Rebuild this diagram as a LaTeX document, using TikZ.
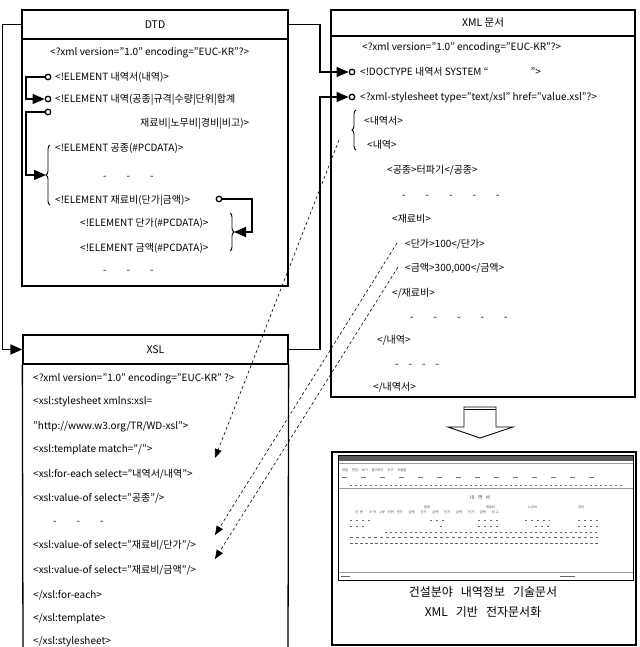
\documentclass[tikz,border=0pt]{standalone}
\usepackage{fontspec}
\setmainfont{Noto Sans CJK KR}
\usetikzlibrary{arrows.meta,decorations.pathreplacing,calc}
\begin{document}
\begin{tikzpicture}[x=1pt,y=-1pt,
  frame/.style={draw, line width=1.3pt, inner sep=0pt},
  hdr/.style={draw, line width=1.3pt, inner sep=0pt, font=\fontsize{10.5}{12}\selectfont},
  txt/.style={anchor=base west, inner sep=0pt, font=\fontsize{10}{12}\selectfont},
  conn/.style={line width=1.4pt, -{Triangle[length=12pt,width=10pt]}},
  ring/.style={circle, draw, line width=1.3pt, fill=white, inner sep=0pt, minimum size=5.5pt},
  dasharrow/.style={line width=0.6pt, dash pattern=on 3pt off 2.5pt, -{Triangle[length=9pt,width=7pt]}},
  bracel/.style={decorate, decoration={brace, amplitude=4pt}, line width=0.9pt},
  tinytxt/.style={anchor=base west, inner sep=0pt, font=\fontsize{3.2}{4}\selectfont, text=black!75},
  captxt/.style={align=center, inner sep=0pt, font=\fontsize{12}{20}\selectfont}
]
\useasboundingbox (0,0) rectangle (639,647);

% ---------------- DTD box ----------------
\node[hdr, minimum width=266pt, minimum height=29pt] (dtdh) at (155,24.5) {DTD};
\node[frame, minimum width=266pt, minimum height=247pt] (dtdb) at (155,162.5) {};
\node[txt] (d0) at (50,56) {<?xml version="1.0" encoding="EUC-KR"?>};
\node[ring] (r1) at (48,77) {};
\node[txt] (dl1) at (55,81) {<!ELEMENT 내역서(내역)>};
\node[ring] (r2) at (48,99) {};
\node[txt] (dl2) at (55,103) {<!ELEMENT 내역(공종|규격|수량|단위|합계};
\node[ring] (r3) at (48,112) {};
\node[txt] (dl3) at (140,127) {재료비|노무비|경비|비고)>};
\node[txt] (dl4) at (55,152) {<!ELEMENT 공종(\#PCDATA)>};
\node[txt] (dl5) at (103,179) {-\hspace{20pt}-\hspace{20pt}-};
\node[txt] (dl6) at (55,203) {<!ELEMENT 재료비(단가|금액)>};
\node[ring] (r4) at (219,199) {};
\node[txt] (dl7) at (80,226) {<!ELEMENT 단가(\#PCDATA)>};
\node[txt] (dl8) at (80,251) {<!ELEMENT 금액(\#PCDATA)>};
\node[txt] (dl9) at (103,273) {-\hspace{20pt}-\hspace{20pt}-};

% braces in DTD
\draw[bracel] (50,205) -- (50,145);
\coordinate (lbt) at (46,175);
\draw[bracel] (230,213) -- (230,251);
\coordinate (rbt) at (234,232);

% DTD inner connectors
\coordinate (jl) at (26,0);
\coordinate (jr) at (252,0);
\draw[conn] (r1.west) -| (jl|-r2) -- (r2.west);
\draw[conn] (r3.west) -| (jl|-lbt) -- (lbt);
\draw[conn] (r4.east) -| (jr|-rbt) -- (rbt);

% ---------------- XML box ----------------
\node[hdr, minimum width=304pt, minimum height=26pt] (xmlh) at (483,23) {XML 문서};
\node[frame, minimum width=304pt, minimum height=361pt] (xmlb) at (483,216.5) {};
\node[txt] (x0) at (362,51) {<?xml version="1.0" encoding="EUC-KR"?>};
\node[ring] (c1) at (352,72) {};
\node[txt] (x1) at (360,76) {<!DOCTYPE 내역서 SYSTEM “\hspace{42pt}”>};
\node[ring] (c2) at (352,97) {};
\node[txt] (x2) at (360,101) {<?xml-stylesheet type="text/xsl" href="value.xsl"?>};
\draw[bracel] (356,150) -- (356,110);
\node[txt] (x3) at (364,125) {<내역서>};
\node[txt] (x4) at (367,149) {<내역>};
\node[txt] (x5) at (387,174) {<공종>터파기</공종>};
\node[txt] (x6) at (402,198) {-\hspace{20pt}-\hspace{20pt}-\hspace{20pt}-\hspace{20pt}-};
\node[txt] (x7) at (392,222) {<재료비>};
\node[txt] (x8) at (405,247) {<단가>100</단가>};
\node[txt] (x9) at (405,271) {<금액>300,000</금액>};
\node[txt] (x10) at (392,296) {</재료비>};
\node[txt] (x11) at (410,320) {-\hspace{20pt}-\hspace{20pt}-\hspace{20pt}-\hspace{20pt}-};
\node[txt] (x12) at (377,343) {</내역>};
\node[txt] (x13) at (395,367) {-\hspace{10pt}-\hspace{10pt}-\hspace{10pt}-};
\node[txt] (x14) at (373,390) {</내역서>};

% ---------------- XSL box ----------------
\node[hdr, minimum width=265pt, minimum height=29pt] (xslh) at (155.5,349.5) {XSL};
\draw[line width=1.3pt] (xslh.south west) -- (23,648);
\draw[line width=1.3pt] (xslh.south east) -- (288,648);
\node[txt] (s0) at (33,381) {<?xml version="1.0" encoding="EUC-KR" ?>};
\node[txt] (s1) at (33,404) {<xsl:stylesheet xmlns:xsl=};
\node[txt] (s2) at (33,429) {"http://www.w3.org/TR/WD-xsl">};
\node[txt] (s3) at (33,452) {<xsl:template match="/">};
\node[txt] (s4) at (33,477) {<xsl:for-each select="내역서/내역">};
\node[txt] (s5) at (33,501) {<xsl:value-of select="공종"/>};
\node[txt] (s6) at (53,524) {-\hspace{20pt}-\hspace{20pt}-};
\node[txt] (s7) at (33,548) {<xsl:value-of select="재료비/단가"/>};
\node[txt] (s8) at (33,573) {<xsl:value-of select="재료비/금액"/>};
\node[txt] (s9) at (33,598) {</xsl:for-each>};
\node[txt] (s10) at (33,621) {</xsl:template>};
\node[txt] (s11) at (33,644) {</xsl:stylesheet>};

% ---------------- outer connectors ----------------
\coordinate (jm) at (320,0);
\draw[conn] (dtdh.west) -- ++(-19,0) |- (xslh.west);
\draw[conn] (dtdh.east) -| (jm|-c1) -- (c1.west);
\draw[conn] (xslh.east) -| (jm|-c2) -- (c2.west);

% ---------------- dashed mapping arrows ----------------
\coordinate (m1s) at (339,140);
\coordinate (m1e) at (215,458);
\coordinate (m2s) at ($(x8.base west)+(-8,-4)$);
\coordinate (m2e) at (215,535);
\coordinate (m3s) at ($(x9.base west)+(-7,-4)$);
\coordinate (m3e) at (215,559);
\draw[dasharrow] (m1s) -- (m1e);
\draw[dasharrow] (m2s) -- (m2e);
\draw[dasharrow] (m3s) -- (m3e);

% ---------------- hollow down arrow ----------------
\draw[line width=0.9pt, fill=white] (464,407) -- (496,407) -- (496,427) -- (513,427) -- (480,438) -- (448,427) -- (464,427) -- cycle;
\draw[line width=0.9pt] (464,409.5) -- (496,409.5);

% ---------------- result box ----------------
\node[frame, line width=1.2pt, minimum width=304pt, minimum height=193pt] (res) at (484,548.5) {};
\node[draw, line width=0.8pt, minimum width=295pt, minimum height=125pt, inner sep=0pt] (shot) at (485.5,517.5) {};
\fill[black!65] (338.5,455.5) rectangle (632.5,461);
\draw[black!40, line width=0.3pt] (338.5,463) -- (632.5,463);
\node[tinytxt] (m1) at (342,471) {파일\hspace{4pt}편집\hspace{4pt}보기\hspace{4pt}즐겨찾기\hspace{4pt}도구\hspace{4pt}도움말};
\draw[black!55, line width=0.8pt, dash pattern=on 5pt off 14pt] (342,477) -- (600,477);
\draw[black!55, line width=0.6pt, dash pattern=on 2pt off 3pt] (350,485) -- (625,485);
\draw[black!40, line width=0.3pt] (338.5,488) -- (632.5,488);
\node[tinytxt, font=\fontsize{5}{6}\selectfont] (ttl) at (470,499) {내\hspace{3pt}역\hspace{3pt}서};
\node[tinytxt] (h1) at (424,508) {합계};
\node[tinytxt] (h2) at (486,508) {재료비};
\node[tinytxt] (h3) at (528,508) {노무비};
\node[tinytxt] (h4) at (578,508) {경비};
\node[tinytxt] (h5) at (355,513) {공\hspace{2pt}종\hspace{6pt}규\hspace{1pt}격\hspace{3pt}수량\hspace{3pt}단위\hspace{3pt}단가\hspace{6pt}금액\hspace{6pt}단가\hspace{6pt}금액\hspace{6pt}단가\hspace{6pt}금액\hspace{6pt}단가\hspace{6pt}금액\hspace{6pt}비\hspace{1pt}고};
\draw[black!60, line width=0.6pt, dash pattern=on 2pt off 4pt] (350,520) -- (370,520) (430,520) -- (445,520) (478,520) -- (500,520) (525,520) -- (550,520) (578,520) -- (598,520);
\draw[black!60, line width=0.6pt, dash pattern=on 2pt off 4pt] (350,526) -- (365,526) (440,526) -- (445,526) (478,526) -- (500,526) (535,526) -- (550,526) (578,526) -- (598,526);
\draw[black!60, line width=0.6pt, dash pattern=on 2pt off 3pt] (385,532) -- (598,532);
\draw[black!60, line width=0.6pt, dash pattern=on 3pt off 3pt] (350,537) -- (598,537);
\draw[black!60, line width=0.6pt, dash pattern=on 3pt off 2pt] (350,543) -- (598,543);
\draw[black!40, line width=0.3pt] (338.5,572) -- (632.5,572);
\draw[black!60, line width=0.6pt] (341,576) -- (350,576) (560,576) -- (575,576);

\node[captxt] (cap) at (483,602) {건설분야\hspace{8pt}내역정보\hspace{8pt}기술문서\\XML\hspace{8pt}기반\hspace{8pt}전자문서화};
\end{tikzpicture}
\end{document}
